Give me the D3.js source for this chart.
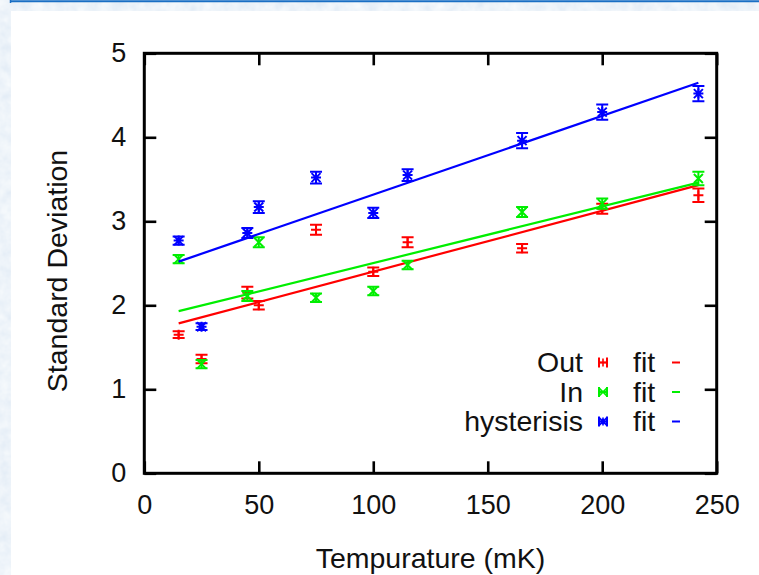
<!DOCTYPE html>
<html>
<head>
<meta charset="utf-8">
<script src="https://cdn.jsdelivr.net/npm/d3@7"></script>
<style>
  html, body { margin: 0; padding: 0; background: #fff; }
  svg { display: block; }
  text { font-family: "Liberation Sans", Arial, Helvetica, sans-serif; fill: #111; }
</style>
</head>
<body>
<svg id="chart" width="759" height="575"></svg>
<script>
// ---- data ----
const temps    = [15, 25, 45, 50, 75, 100, 115, 165, 200, 242];
const outVals  = [1.65, 1.36, 2.15, 2.00, 2.90, 2.40, 2.75, 2.68, 3.15, 3.31];
const outErr   = [0.04, 0.05, 0.07, 0.05, 0.06, 0.05, 0.06, 0.05, 0.06, 0.08];
const inVals   = [2.55, 1.30, 2.11, 2.75, 2.09, 2.17, 2.48, 3.11, 3.21, 3.51];
const inErr    = [0.05, 0.05, 0.06, 0.06, 0.05, 0.05, 0.05, 0.06, 0.06, 0.08];
const hystVals = [2.77, 1.745, 2.86, 3.17, 3.52, 3.10, 3.55, 3.96, 4.30, 4.52];
const hystErr  = [0.05, 0.04, 0.06, 0.07, 0.07, 0.06, 0.07, 0.09, 0.09, 0.09];
// fit lines (end points)
const fitX     = [15, 242];
const fitOut   = [1.785, 3.43];
const fitIn    = [1.93, 3.46];
const fitHyst  = [2.52, 4.65];
const xTicks   = [0, 50, 100, 150, 200, 250];
const yTicks   = [0, 1, 2, 3, 4, 5];
const seriesNames = ["Out", "In", "hysterisis"];
const seriesColors = ["#ff0000", "#00ee00", "#0000ff"];
const seriesMarkers = ["plus", "cross", "star"];
const xLabel = "Tempurature (mK)";
const yLabel = "Standard Deviation";

const series = [
  {name: seriesNames[0], vals: outVals, err: outErr, fit: fitOut},
  {name: seriesNames[1], vals: inVals, err: inErr, fit: fitIn},
  {name: seriesNames[2], vals: hystVals, err: hystErr, fit: fitHyst}
].map((s, i) => ({...s, color: seriesColors[i], marker: seriesMarkers[i]}));

const svg = d3.select("#chart");
const W = 759, H = 575;

// ---- page background (light blue textured frame) ----
const defs = svg.append("defs");
const f = defs.append("filter").attr("id", "mottle")
  .attr("x", 0).attr("y", 0).attr("width", 1).attr("height", 1);
f.append("feTurbulence").attr("type", "fractalNoise")
  .attr("baseFrequency", "0.09").attr("numOctaves", 3).attr("seed", 4).attr("result", "n");
f.append("feColorMatrix").attr("type", "matrix")
  .attr("values", "0.22 0 0 0 0.74  0.16 0 0 0 0.82  0.08 0 0 0 0.91  0 0 0 0 1");
svg.append("rect").attr("width", W).attr("height", H).attr("fill", "#fff");
svg.append("rect").attr("x", 0).attr("y", 0).attr("width", 11).attr("height", H)
  .attr("fill", "#d8e6f4").attr("filter", "url(#mottle)");
svg.append("rect").attr("x", 0).attr("y", 0).attr("width", W).attr("height", 11)
  .attr("fill", "#d8e6f4").attr("filter", "url(#mottle)");
svg.append("line").attr("x1", 10).attr("x2", W).attr("y1", 1.2).attr("y2", 1.2)
  .attr("stroke", "#1a6fc4").attr("stroke-width", 2);
svg.append("line").attr("x1", 10.5).attr("x2", 10.5).attr("y1", 0).attr("y2", 3)
  .attr("stroke", "#1a6fc4").attr("stroke-width", 1.5);

// ---- scales ----
const L = 144.3, R = 716.7, T = 53.3, B = 473.3;
const x = d3.scaleLinear().domain([0, 250]).range([L, R]);
const y = d3.scaleLinear().domain([0, 5]).range([B, T]);

const FS = 27, FL = 28.5;
// axes
const axB = svg.append("g").attr("transform", `translate(0,${B})`)
  .call(d3.axisBottom(x).tickValues(xTicks).tickFormat(d3.format("d")).tickSizeInner(-12).tickSizeOuter(0).tickPadding(22));
const axT = svg.append("g").attr("transform", `translate(0,${T})`)
  .call(d3.axisTop(x).tickValues(xTicks).tickFormat("").tickSizeInner(-12).tickSizeOuter(0));
const axL = svg.append("g").attr("transform", `translate(${L},0)`)
  .call(d3.axisLeft(y).tickValues(yTicks).tickFormat(d3.format("d")).tickSizeInner(-12).tickSizeOuter(0).tickPadding(18));
const axR = svg.append("g").attr("transform", `translate(${R},0)`)
  .call(d3.axisRight(y).tickValues(yTicks).tickFormat("").tickSizeInner(-12).tickSizeOuter(0));
[axB, axT, axL, axR].forEach(a => {
  a.select(".domain").remove();
  a.selectAll(".tick line").attr("stroke", "#000").attr("stroke-width", 2.6);
  a.selectAll("text").attr("font-size", FS).attr("font-family", "Liberation Sans, Arial, sans-serif").attr("fill", "#111");
});
svg.append("rect").attr("x", L).attr("y", T).attr("width", R - L).attr("height", B - T)
  .attr("fill", "none").attr("stroke", "#000").attr("stroke-width", 3);

// axis titles
svg.append("text").attr("x", (L + R) / 2).attr("y", 568).attr("text-anchor", "middle")
  .attr("font-size", FL).text(xLabel);
svg.append("text").attr("transform", `translate(67,${271}) rotate(-90)`)
  .attr("text-anchor", "middle").attr("font-size", FL).text(yLabel);

// ---- marks ----
const markerPath = {
  plus: "M-5,0H5M0,-5V5",
  cross: "M-4.5,-4.5L4.5,4.5M-4.5,4.5L4.5,-4.5",
  star: "M-5,0H5M0,-5V5M-4.5,-4.5L4.5,4.5M-4.5,4.5L4.5,-4.5"
};
const cap = 6;

const plot = svg.append("g");
series.forEach(s => {
  const g = plot.append("g").attr("stroke", s.color).attr("fill", "none").attr("stroke-width", 2);
  // fit line
  g.append("line")
    .attr("x1", x(fitX[0])).attr("y1", y(s.fit[0]))
    .attr("x2", x(fitX[1])).attr("y2", y(s.fit[1]))
    .attr("stroke-width", 2.2);
  // error bars + points
  temps.forEach((t, i) => {
    const cx = x(t), v = s.vals[i], e = s.err[i];
    const y0 = y(v - e), y1 = y(v + e);
    g.append("path").attr("d",
      `M${cx},${y0}V${y1}M${cx - cap},${y0}H${cx + cap}M${cx - cap},${y1}H${cx + cap}`);
    g.append("path").attr("transform", `translate(${cx},${y(v)})`)
      .attr("d", markerPath[s.marker]);
  });
});

// ---- legend ----
const legendBase = [372, 401.5, 431];
series.forEach((s, i) => {
  const by = legendBase[i];
  const cy = by - 9.5;
  svg.append("text").attr("x", 583).attr("y", by).attr("text-anchor", "end")
    .attr("font-size", FL).text(s.name);
  const g = svg.append("g").attr("stroke", s.color).attr("stroke-width", 2).attr("fill", "none");
  g.append("path").attr("d", `M599,${cy}H607M599,${cy - 5}V${cy + 5}M607,${cy - 5}V${cy + 5}`);
  g.append("path").attr("transform", `translate(603,${cy}) scale(0.8)`).attr("d", markerPath[s.marker]);
  svg.append("text").attr("x", 633).attr("y", by).attr("font-size", FL).text("fit");
  svg.append("line").attr("x1", 672).attr("x2", 680).attr("y1", cy).attr("y2", cy)
    .attr("stroke", s.color).attr("stroke-width", 2);
});
</script>
</body>
</html>
